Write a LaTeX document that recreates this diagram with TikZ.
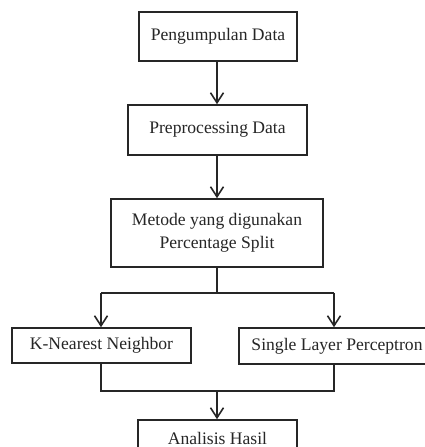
\documentclass[tikz,border=0pt]{standalone}
\usepackage{fontspec}
\setmainfont{Liberation Serif}
\usetikzlibrary{arrows.meta}
\begin{document}
\begin{tikzpicture}[x=1pt,y=1pt,
  box/.style={draw=black!85, line width=1.6pt, fill=white, inner sep=0pt, align=center,
    font=\fontsize{17.6}{22.5}\selectfont, text=black!85},
  link/.style={draw=black!85, line width=1.6pt},
  arr/.style={link, -{Straight Barb[length=10pt,width=13pt,line width=1.6pt]}}]
\useasboundingbox (0,0) rectangle (425,447);
\clip (0,0) rectangle (425,447);
\node[box, minimum width=158pt, minimum height=49pt] (n1) at (218,410.5) {Pengumpulan Data};
\node[box, minimum width=179pt, minimum height=50pt] (n2) at (217.5,317) {Preprocessing Data};
\node[box, minimum width=212pt, minimum height=68pt] (n3) at (217,214) {Metode yang digunakan\\Percentage Split};
\node[box, minimum width=179pt, minimum height=35pt] (n4) at (101.5,101.5) {K-Nearest Neighbor};
\node[box, minimum width=196pt, minimum height=36pt] (n5) at (337,101) {Single Layer Perceptron};
\node[box, minimum width=159pt, minimum height=40pt] (n6) at (217.5,7) {};
\node[font=\fontsize{17.6}{22.5}\selectfont, text=black!85, inner sep=0pt] (t6) at (217.5,9) {Analisis Hasil};
\coordinate (j1) at (217,154);
\coordinate (j1l) at (101,154);
\coordinate (j1r) at (334,154);
\coordinate (j2) at (217,56);
\coordinate (j2l) at (101,56);
\coordinate (j2r) at (334,56);
\draw[arr] (n1.south -| j1) -- (n2.north -| j1);
\draw[arr] (n2.south -| j1) -- (n3.north -| j1);
\draw[link] (n3.south -| j1) -- (j1);
\draw[link] (j1l) -- (j1r);
\draw[arr] (j1l) -- (j1l |- n4.north);
\draw[arr] (j1r) -- (j1r |- n5.north);
\draw[link] (n4.south -| j2l) -- (j2l) -- (j2r) -- (n5.south -| j2r);
\draw[arr] (j2) -- (n6.north -| j2);
\end{tikzpicture}
\end{document}
